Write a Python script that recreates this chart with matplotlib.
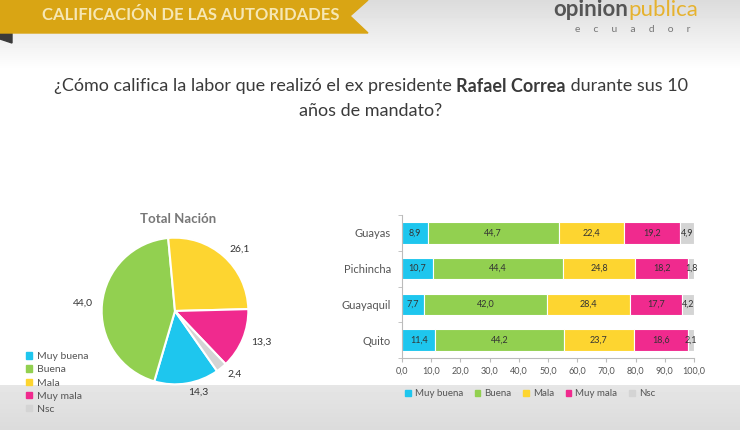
import numpy as np
import matplotlib.pyplot as plt
from matplotlib.patches import Polygon, Rectangle

plt.rcParams['font.family'] = ['Lato', 'DejaVu Sans']

# data
categories = ['Muy buena', 'Buena', 'Mala', 'Muy mala', 'Nsc']
colors = ['#1ec6ee', '#92d050', '#fdd530', '#f02a8e', '#d4d4d4']
nacion = [14.3, 44.0, 26.1, 13.3, 2.4]

regions = ['Guayas', 'Pichincha', 'Guayaquil', 'Quito']
muy_buena = [8.9, 10.7, 7.7, 11.4]
buena = [44.7, 44.4, 42.0, 44.2]
mala = [22.4, 24.8, 28.4, 23.7]
muy_mala = [19.2, 18.2, 17.7, 18.6]
nsc = [4.9, 1.8, 4.2, 2.1]
x_ticks = np.arange(0, 101, 10)

W, H = 740, 430
fig = plt.figure(figsize=(W / 100, H / 100), dpi=100)

# background (pixel coordinates)
bg = fig.add_axes([0, 0, 1, 1])
bg.set_xlim(0, W)
bg.set_ylim(H, 0)
bg.axis('off')
grad = np.ones((H, 1))
grad[:70, 0] = np.linspace(0.86, 1.0, 70)
grad[385:, 0] = np.linspace(0.90, 0.86, H - 385)
bg.imshow(np.repeat(grad, 2, axis=1), cmap='gray', vmin=0, vmax=1,
          extent=[0, W, H, 0], aspect='auto', zorder=0)

# header ribbon
bg.add_patch(Polygon([[0, 0], [368, 0], [350, 16], [368, 33], [0, 33]],
                     closed=True, color='#d9a514', zorder=2))
bg.add_patch(Polygon([[0, 33], [12, 33], [12, 43], [0, 39]],
                     closed=True, color='#3a3a3a', zorder=1))
bg.text(42, 15, 'CALIFICACIÓN DE LAS AUTORIDADES', fontsize=12,
        fontweight='bold', color='#f6e7b4', va='center', ha='left', zorder=3)

fig.canvas.draw()
r = fig.canvas.get_renderer()

# logo
t_op = bg.text(553, 10, 'opinion', fontsize=16, color='#555555', va='center',
               ha='left', fontweight='bold', zorder=3)
t_pu = bg.text(0, 10, 'publica', fontsize=16, color='#e6b22e', va='center',
               ha='left', zorder=3)
t_pu.set_x(553 + t_op.get_window_extent(renderer=r).width)
bg.text(633, 29, 'e     c     u     a     d     o     r', fontsize=7.5,
        color='#777777', va='center', ha='center', zorder=3)

# question title with bold name
parts = [('¿Cómo califica la labor que realizó el ex presidente ', 'normal'),
         ('Rafael Correa', 'bold'),
         (' durante sus 10', 'normal')]
texts = []
for s, w in parts:
    t = bg.text(0, 86, s, fontsize=13, fontweight=w, color='#3a3a3a',
                va='center', ha='left')
    texts.append(t)
widths = [t.get_window_extent(renderer=r).width for t in texts]
x0 = 371 - sum(widths) / 2
for t, wd in zip(texts, widths):
    t.set_x(x0)
    x0 += wd
bg.text(371, 111, 'años de mandato?', fontsize=13, color='#3a3a3a',
        va='center', ha='center')

# pie chart
cx, cy, half = 175, 311, 110
pax = fig.add_axes([(cx - half) / W, (H - cy - half) / H, 2 * half / W, 2 * half / H])
pax.pie(nacion, colors=colors, startangle=-55, counterclock=False,
        labels=[f'{v:.1f}'.replace('.', ',') for v in nacion],
        labeldistance=1.12, textprops={'fontsize': 7.5, 'color': '#333333'},
        wedgeprops={'edgecolor': 'white', 'linewidth': 1.5}, radius=1)
pax.set_xlim(-1.5, 1.5)
pax.set_ylim(-1.5, 1.5)
pax.set_aspect('equal')
bg.text(178, 219, 'Total Nación', fontsize=9.5, fontweight='bold',
        color='#777777', ha='center', va='center')

handles = [Rectangle((0, 0), 1, 1, color=c) for c in colors]
fig.legend(handles, categories, loc='upper left',
           bbox_to_anchor=(22 / W, 1 - 348 / H), frameon=False, fontsize=7.5,
           handlelength=0.6, handleheight=0.6, handletextpad=0.4,
           labelspacing=0.4, labelcolor='#555555', borderaxespad=0)

# stacked bars
bax = fig.add_axes([402 / W, (H - 358) / H, 292 / W, 143 / H])
ypos = np.arange(len(regions))[::-1]
series = [muy_buena, buena, mala, muy_mala, nsc]
left = np.zeros(len(regions))
for vals, c in zip(series, colors):
    vals = np.array(vals)
    bax.barh(ypos, vals, left=left, height=0.6, color=c,
             edgecolor='white', linewidth=0.8)
    for y, l, v in zip(ypos, left, vals):
        bax.text(l + v / 2, y, f'{v:.1f}'.replace('.', ','), fontsize=6.5,
                 color='#333333', ha='center', va='center')
    left += vals

bax.set_xlim(0, 100)
bax.set_ylim(-0.5, len(regions) - 0.5)
bax.set_yticks(ypos)
bax.set_yticklabels(regions, fontsize=8, color='#555555')
bax.set_yticks(np.arange(-0.5, len(regions)), minor=True)
bax.tick_params(axis='y', which='major', length=0, pad=8)
bax.tick_params(axis='y', which='minor', length=3, color='#bbbbbb')
bax.set_xticks(x_ticks)
bax.set_xticklabels([f'{v:.1f}'.replace('.', ',') for v in x_ticks],
                    fontsize=6.5, color='#555555')
bax.tick_params(axis='x', length=3, color='#bbbbbb')
for s in ['top', 'right']:
    bax.spines[s].set_visible(False)
for s in ['left', 'bottom']:
    bax.spines[s].set_color('#bbbbbb')
bax.patch.set_alpha(0)

fig.legend(handles, categories, loc='center', ncol=5,
           bbox_to_anchor=(530 / W, 1 - 394 / H), frameon=False, fontsize=7,
           handlelength=0.6, handleheight=0.6, handletextpad=0.4,
           columnspacing=1.2, labelcolor='#555555')

fig.savefig('out.png', dpi=100)
